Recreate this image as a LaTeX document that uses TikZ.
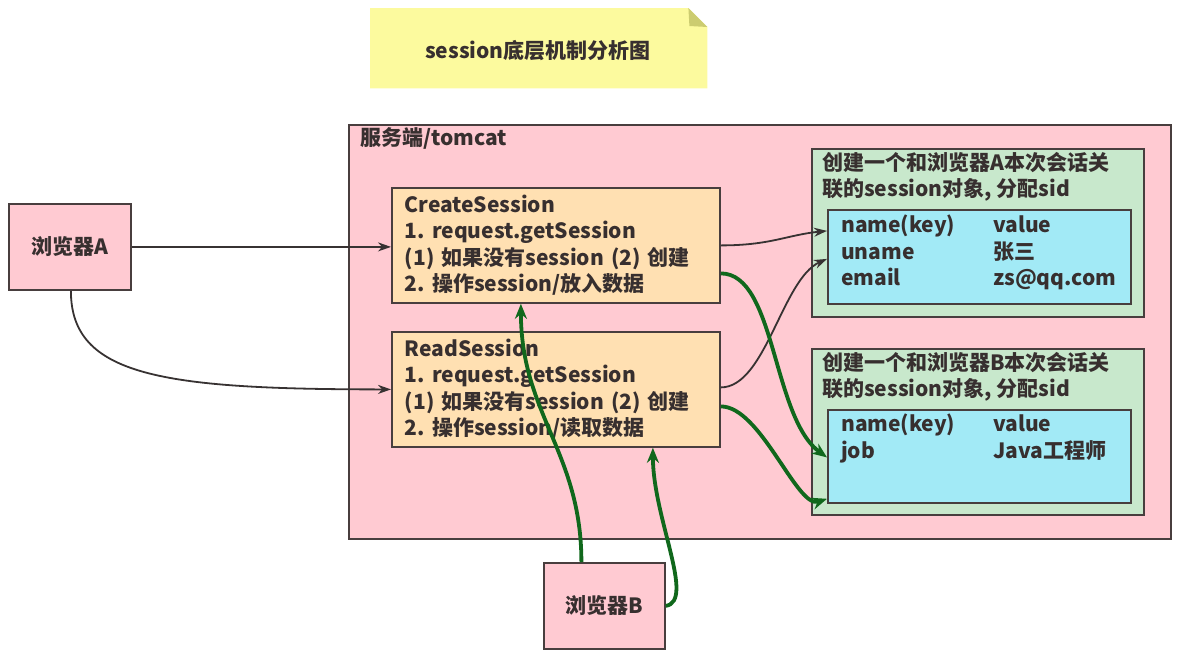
\documentclass[tikz,border=0pt]{standalone}
\usepackage{fontspec}
\setmainfont{Noto Sans CJK SC}
\usepackage{xcolor}
\usepackage{tikz}
\usetikzlibrary{arrows.meta,calc}
\frenchspacing

\definecolor{pinkbg}{RGB}{255,202,210}
\definecolor{orangebg}{RGB}{255,224,178}
\definecolor{greenbg}{RGB}{200,232,204}
\definecolor{cyanbg}{RGB}{162,234,246}
\definecolor{notebg}{RGB}{252,250,158}
\definecolor{notefold}{RGB}{204,204,112}
\definecolor{edgegray}{RGB}{72,62,62}
\definecolor{textgray}{RGB}{55,47,47}
\definecolor{flowgreen}{RGB}{16,104,28}
\definecolor{flowdark}{RGB}{55,50,50}

\tikzset{
  box/.style={draw=edgegray,line width=1.8pt,inner sep=0pt,anchor=north west},
  txt/.style={text=textgray,font=\fontsize{21}{26.5}\selectfont\bfseries,inner sep=0pt,align=left},
  darkflow/.style={draw=flowdark,line width=1.8pt,-{Stealth[length=13pt,width=9pt]}},
  greenflow/.style={draw=flowgreen,line width=3.8pt,-{Stealth[length=15pt,width=12pt]}}
}

\begin{document}
\begin{tikzpicture}[x=1pt,y=1pt,yscale=-1,xscale=1]
\useasboundingbox (0,0) rectangle (1182,656);

%Shape: note with folded corner
\node[anchor=north west,minimum width=337pt,minimum height=80pt,inner sep=0pt] (note) at (370,8) {};
\fill[notebg] (note.north west) -- ($(note.north east)+(-19,0)$) -- ($(note.north east)+(0,19)$) -- (note.south east) -- (note.south west) -- cycle;
\fill[notefold] ($(note.north east)+(-19,0)$) -- ($(note.north east)+(0,19)$) -- ($(note.north east)+(-18,18)$) -- cycle;
% Text Node
\node[txt] (notetitle) at (538,51) {session底层机制分析图};

%Shape: server
\node[box,fill=pinkbg,minimum width=822pt,minimum height=414pt] (server) at (348,124) {};
\node[txt,anchor=west] (serverlbl) at (360,138) {服务端/tomcat};

%Shape: browsers
\node[box,fill=pinkbg,minimum width=122pt,minimum height=86pt,txt] (brA) at (8,203) {浏览器A};
\node[box,fill=pinkbg,minimum width=121pt,minimum height=86pt,txt] (brB) at (543,562) {浏览器B};

%Shape: servlets
\node[box,fill=orangebg,txt,text width=302pt,inner xsep=13pt,inner ysep=0pt,minimum height=115pt] (create) at (391,187)
  {CreateSession\\1. request.getSession\\(1) 如果没有session (2) 创建\\2. 操作session/放入数据};
\node[box,fill=orangebg,txt,text width=302pt,inner xsep=13pt,inner ysep=0pt,minimum height=115pt] (read) at (391,331)
  {ReadSession\\1. request.getSession\\(1) 如果没有session (2) 创建\\2. 操作session/读取数据};

%Shape: session A
\node[box,fill=greenbg,minimum width=332pt,minimum height=168pt] (sessA) at (811,148) {};
\node[txt,anchor=north west] (sessAlbl) at (822,152) {创建一个和浏览器A本次会话关\\联的session对象, 分配sid};
\node[box,fill=cyanbg,minimum width=303pt,minimum height=94pt] (cyanA) at (827,209) {};
\node[txt,anchor=north west] (tblA) at (841,214)
  {\begin{tabular}{@{}p{152pt}@{}l@{}}name(key) & value\\ uname & 张三\\ email & zs@qq.com\end{tabular}};

%Shape: session B
\node[box,fill=greenbg,minimum width=332pt,minimum height=166pt] (sessB) at (811,348) {};
\node[txt,anchor=north west] (sessBlbl) at (822,352) {创建一个和浏览器B本次会话关\\联的session对象, 分配sid};
\node[box,fill=cyanbg,minimum width=303pt,minimum height=93pt] (cyanB) at (827,409) {};
\node[txt,anchor=north west] (tblB) at (841,413)
  {\begin{tabular}{@{}p{152pt}@{}l@{}}name(key) & value\\ job & Java工程师\end{tabular}};

%Straight Lines and curves
\coordinate (aIn1) at ($(cyanA.west)+(0,-26)$);
\coordinate (aIn2) at ($(cyanA.west)+(0,2)$);
\coordinate (bIn1) at ($(cyanB.west)+(0,1)$);
\coordinate (bIn2) at ($(cyanB.south west)+(0,-5)$);
\draw[darkflow] (brA.east) -- (brA.east -| create.west);
\draw[darkflow] ($(brA.south)+(1,0)$) .. controls +(0,85) and +(-230,0) .. (read.west);
\draw[darkflow] (create.east) .. controls +(50,0) and +(-40,4) .. (aIn1);
\draw[darkflow] ($(read.east)+(0,-2)$) .. controls +(45,0) and +(-45,20) .. (aIn2);
\draw[greenflow] ($(create.east)+(0,28)$) .. controls +(55,0) and +(-55,-40) .. (bIn1);
\draw[greenflow] ($(read.east)+(0,17)$) .. controls +(40,0) and +(-30,10) .. (bIn2);
\draw[greenflow] ($(brB.north)+(-23,0)$) .. controls +(0,-110) and +(0,110) .. ($(create.south)+(-35,0)$);
\draw[greenflow] (brB.east) .. controls +(30,-5) and +(0,70) .. ($(read.south)+(97,0)$);

\end{tikzpicture}
\end{document}
